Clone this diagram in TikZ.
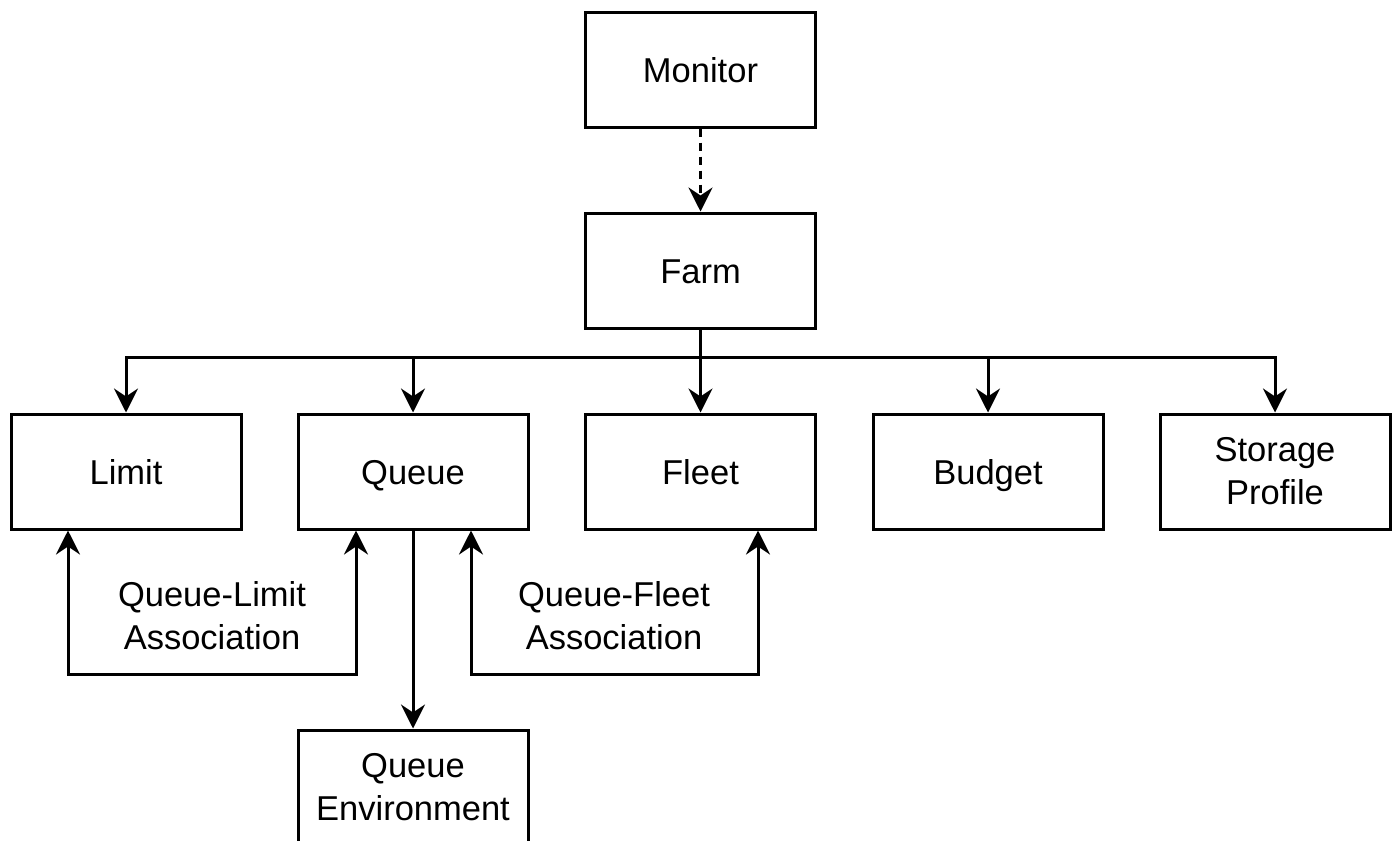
\documentclass[tikz,border=0pt]{standalone}
\usepackage{fontspec}
\setmainfont{Liberation Sans}
\usetikzlibrary{arrows.meta}
\begin{document}
\begin{tikzpicture}[x=1pt,y=-1pt,
  box/.style={draw,line width=3pt,minimum width=230pt,minimum height=115pt,inner sep=0pt,align=center,font=\fontsize{34.5}{43}\selectfont},
  one/.style={text height=25pt,text depth=0pt},
  lbl/.style={align=center,font=\fontsize{34.5}{43}\selectfont},
  conn/.style={line width=3pt,-{Stealth[length=24pt,width=24pt,inset=8pt]}},
  conn2/.style={line width=3pt,{Stealth[length=24pt,width=24pt,inset=8pt]}-{Stealth[length=24pt,width=24pt,inset=8pt]}}]
\useasboundingbox (0,0) rectangle (1393,841);
\node[box,one] (monitor) at (700.5,69.5) {Monitor};
\node[box,one] (farm) at (700.5,270.5) {Farm};
\node[box,one] (limit) at (126,471.5) {Limit};
\node[box,one] (queue) at (413,471.5) {Queue};
\node[box,one] (fleet) at (700.5,471.5) {Fleet};
\node[box,one] (budget) at (988,471.5) {Budget};
\node[box] (storage) at (1275,471.5) {Storage\\Profile};
\node[box] (env) at (413,787.5) {Queue\\Environment};
\node[lbl] (ql) at (212,616) {Queue-Limit\\Association};
\node[lbl] (qf) at (614,616) {Queue-Fleet\\Association};
\coordinate (bus) at (700.5,357);
\draw[conn,dash pattern=on 8pt off 6pt] (monitor) -- (farm);
\draw[conn] (farm.south) -- (bus) -| (limit.north);
\draw[conn] (bus) -| (queue.north);
\draw[conn] (bus) -- (fleet.north);
\draw[conn] (bus) -| (budget.north);
\draw[conn] (bus) -| (storage.north);
\draw[conn] (queue.south) -- (env.north);
\coordinate (qlL) at (68,674);
\coordinate (qlR) at (356,674);
\draw[conn2] (limit.south -| qlL) -- (qlL) -- (qlR) -- (queue.south -| qlR);
\coordinate (qfL) at (471,674);
\coordinate (qfR) at (758,674);
\draw[conn2] (queue.south -| qfL) -- (qfL) -- (qfR) -- (fleet.south -| qfR);
\end{tikzpicture}
\end{document}
